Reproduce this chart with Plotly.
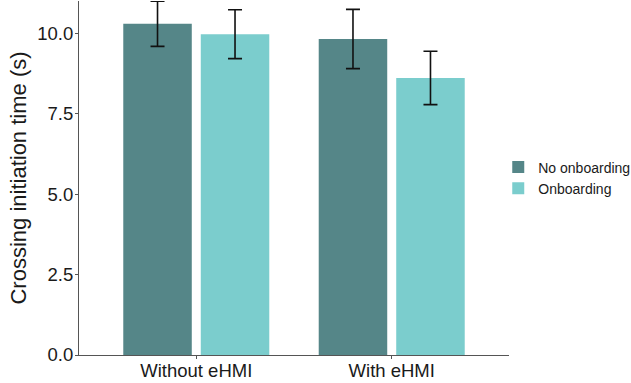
import plotly.graph_objects as go

categories = ["Without eHMI", "With eHMI"]
series_names = ["No onboarding", "Onboarding"]
no_onboarding = [10.29, 9.82]
no_onboarding_err = [0.70, 0.92]
onboarding = [9.97, 8.61]
onboarding_err = [0.76, 0.83]
y_ticks = [0, 2.5, 5, 7.5, 10]
y_tick_labels = ["0.0", "2.5", "5.0", "7.5", "10.0"]

colors = ["#558688", "#7bcdcd"]
font = "Liberation Sans, Arial, sans-serif"

fig = go.Figure()
for name, vals, errs, col in [
    (series_names[0], no_onboarding, no_onboarding_err, colors[0]),
    (series_names[1], onboarding, onboarding_err, colors[1]),
]:
    fig.add_trace(go.Bar(
        x=categories, y=vals, name=name,
        marker=dict(color=col, line=dict(width=0)),
        error_y=dict(type="data", array=errs, visible=True,
                     color="#111111", thickness=1.6, width=7),
    ))

fig.update_layout(
    width=631, height=383,
    margin=dict(l=79, r=122, t=1, b=28, autoexpand=False),
    paper_bgcolor="white", plot_bgcolor="white",
    barmode="group", bargap=0.207, bargroupgap=0.116,
    font=dict(family=font, color="#1a1a1a"),
    showlegend=True,
    legend=dict(x=0.975, xanchor="left", y=0.5, yanchor="middle",
                font=dict(size=14, color="#1a1a1a"),
                itemwidth=30, tracegroupgap=0, bgcolor="rgba(0,0,0,0)"),
    xaxis=dict(range=[-0.6, 1.6], showline=True, linecolor="#555555", linewidth=1,
               ticks="outside", ticklen=3, tickcolor="#555555", automargin=False,
               ticklabelstandoff=-4,
               tickfont=dict(size=18.5, color="#1a1a1a", family=font),
               showgrid=False, zeroline=False),
    yaxis=dict(range=[0, 11.0], showline=True, linecolor="#555555", linewidth=1,
               ticks="outside", ticklen=3, tickcolor="#555555", automargin=False,
               ticklabelstandoff=-2,
               tickvals=y_ticks, ticktext=y_tick_labels,
               tickfont=dict(size=18.5, color="#1a1a1a", family=font),
               title=dict(text="Crossing initiation time (s)",
                          font=dict(size=22, color="#1a1a1a", family=font), standoff=4),
               showgrid=False, zeroline=False),
)

fig.write_html("out.html", config={"displayModeBar": False},
               post_script="document.body.style.margin='0';document.body.style.overflow='hidden';")
